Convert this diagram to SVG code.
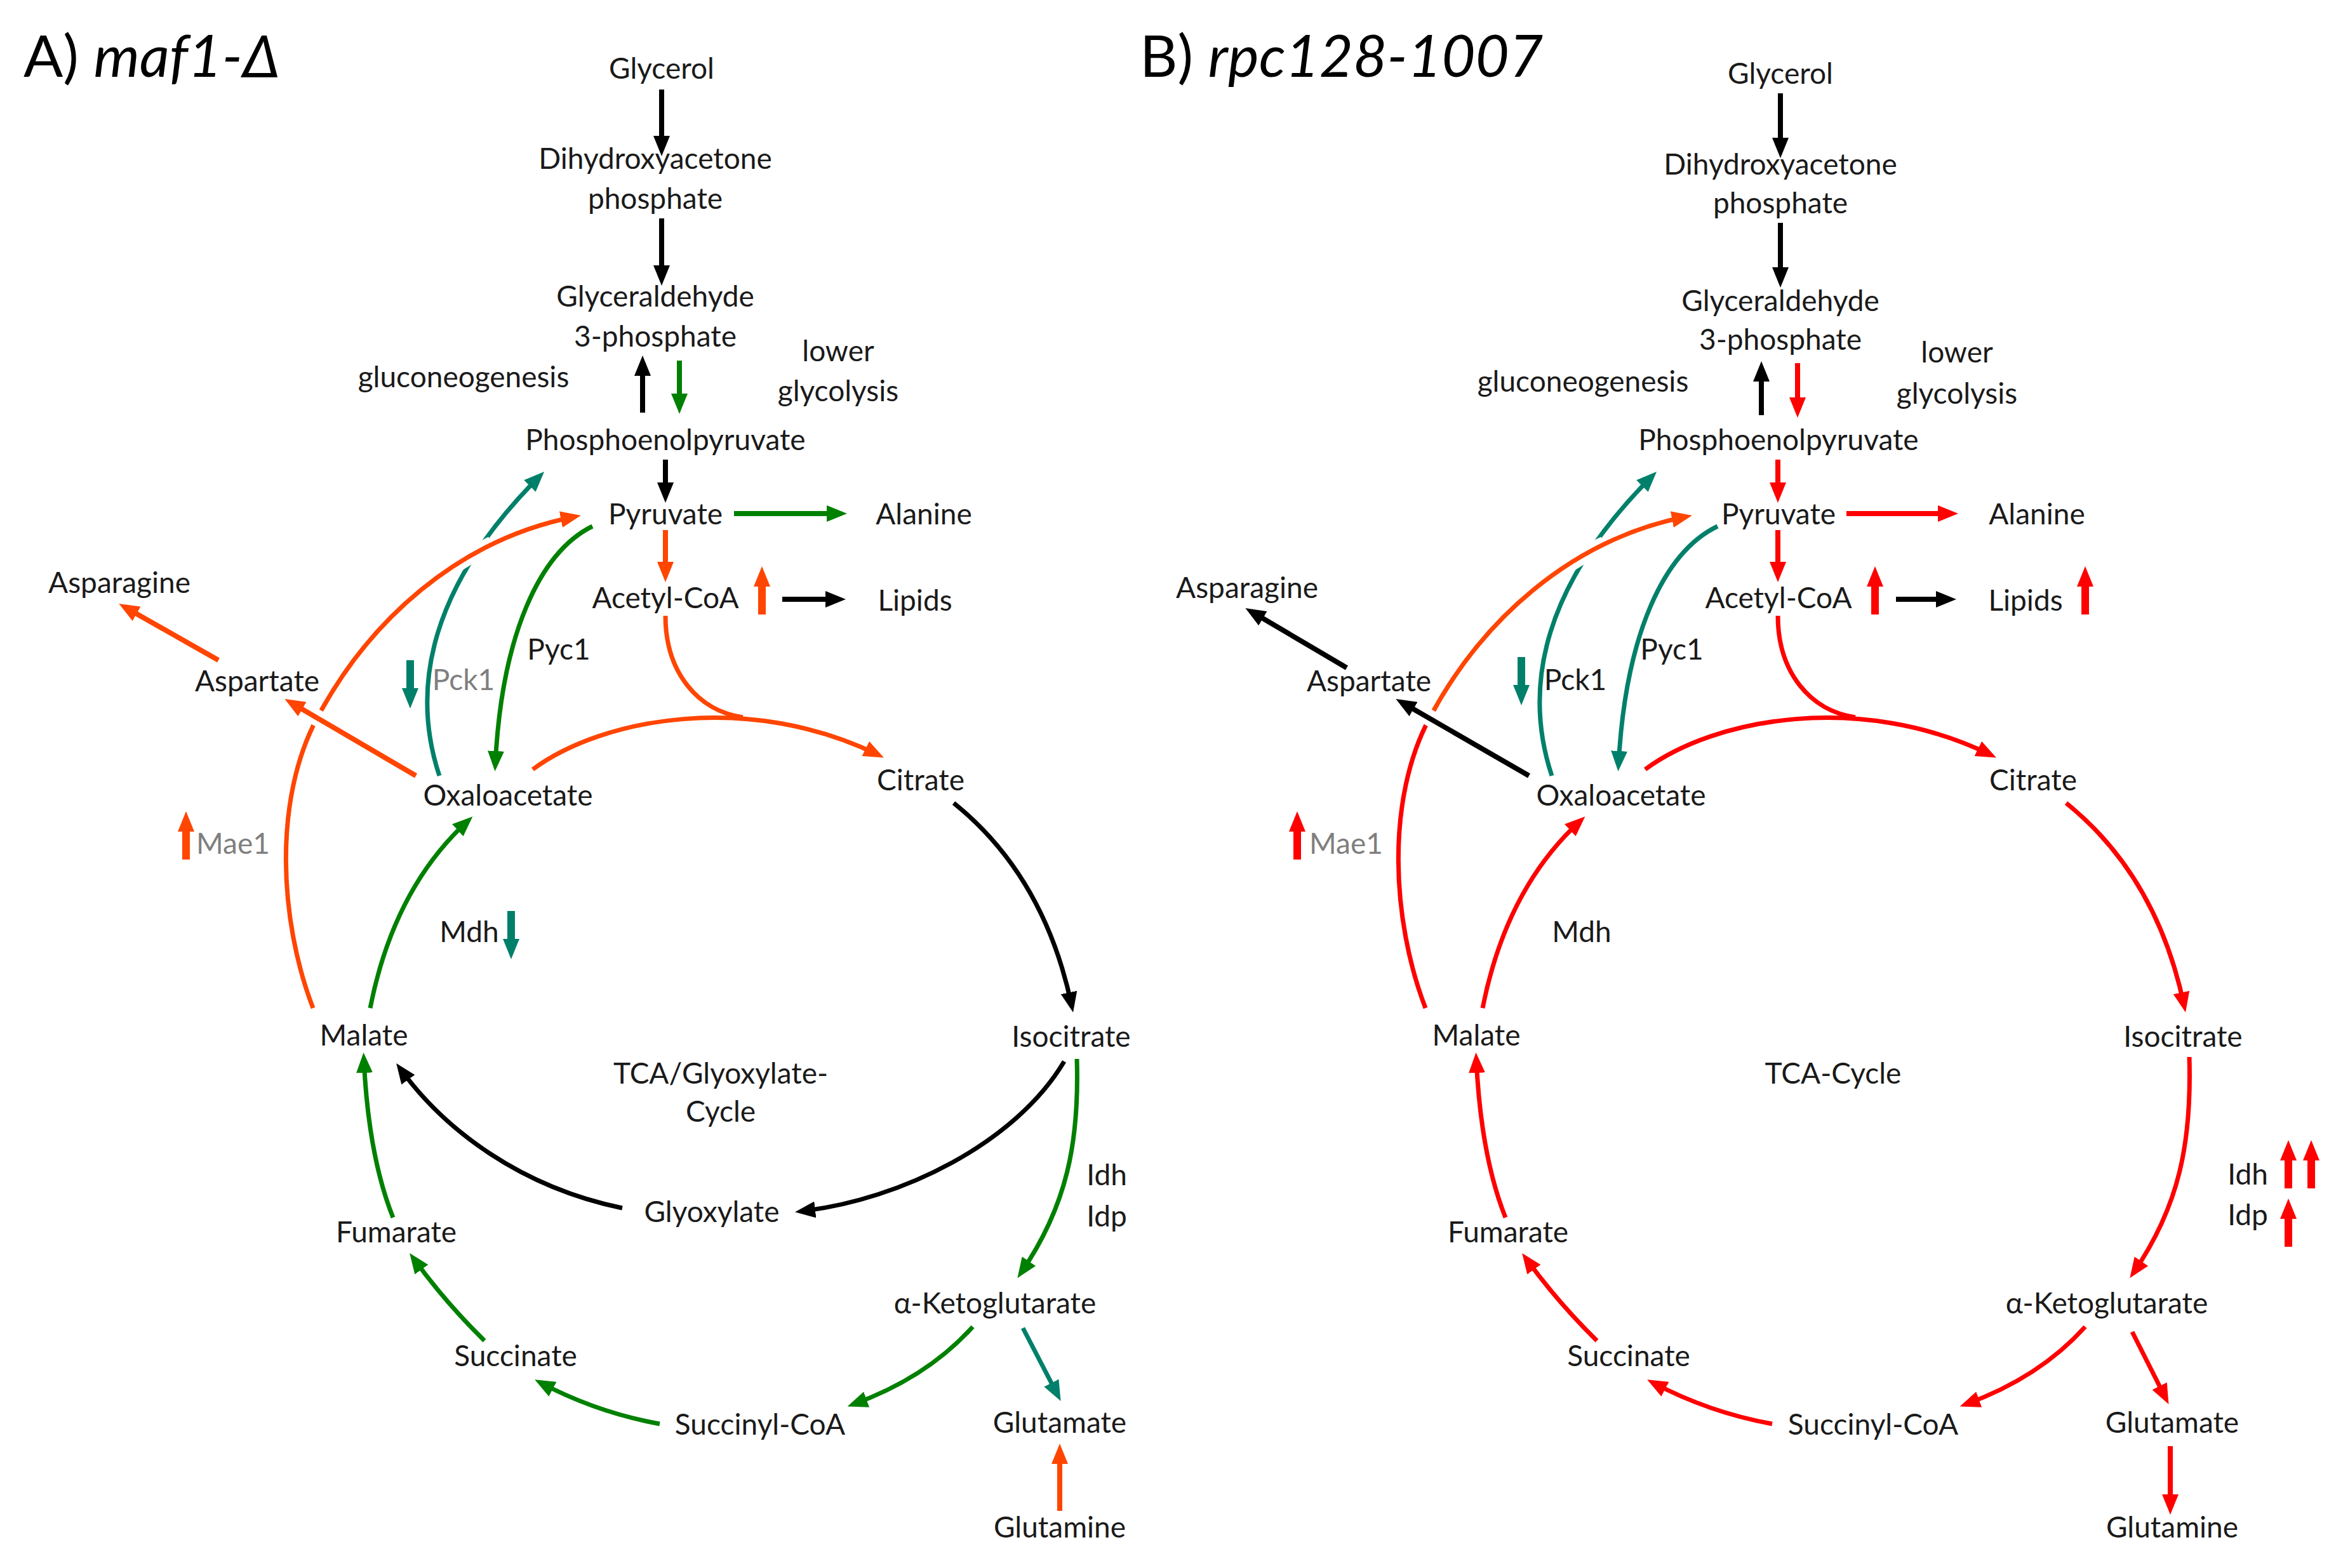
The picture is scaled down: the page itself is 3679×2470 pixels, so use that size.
<svg xmlns="http://www.w3.org/2000/svg" xmlns:xlink="http://www.w3.org/1999/xlink" width="3679" height="2470" viewBox="0 0 3679 2470">
<style>
text{font-family:Lato,"Noto Sans","Liberation Sans",sans-serif;font-size:46px;fill:#1a1a1a;text-anchor:middle}
.title{font-size:92px;text-anchor:start;fill:#000}
.gray{fill:#7f7f7f}
.c{fill:none;stroke-width:7}
.s{fill:none;stroke-width:8}
.k{stroke:#000}.gr{stroke:#008000}.tl{stroke:#00806A}.o{stroke:#FF4500}.r{stroke:#FF0000}
.halo{fill:none;stroke:#fff;stroke-width:26}
</style>
<defs>
<marker id="mk" markerUnits="userSpaceOnUse" markerWidth="32" markerHeight="26" refX="22" refY="13" orient="auto"><path d="M0,0 L32,13 L0,26 z" fill="#000"/></marker>
<marker id="mg" markerUnits="userSpaceOnUse" markerWidth="32" markerHeight="26" refX="22" refY="13" orient="auto"><path d="M0,0 L32,13 L0,26 z" fill="#008000"/></marker>
<marker id="mt" markerUnits="userSpaceOnUse" markerWidth="32" markerHeight="26" refX="22" refY="13" orient="auto"><path d="M0,0 L32,13 L0,26 z" fill="#00806A"/></marker>
<marker id="mo" markerUnits="userSpaceOnUse" markerWidth="32" markerHeight="26" refX="22" refY="13" orient="auto"><path d="M0,0 L32,13 L0,26 z" fill="#FF4500"/></marker>
<marker id="mr" markerUnits="userSpaceOnUse" markerWidth="32" markerHeight="26" refX="22" refY="13" orient="auto"><path d="M0,0 L32,13 L0,26 z" fill="#FF0000"/></marker>
<path id="ind" d="M-6,0 L-6,-44 L-13,-44 L0,-76 L13,-44 L6,-44 L6,0 z"/>
</defs>
<rect width="3679" height="2470" fill="#fff"/>

<g id="titles">
<text class="title" x="37" y="121">A) <tspan font-style="italic">maf1-Δ</tspan></text>
<text class="title" x="1795" y="121">B) <tspan font-style="italic">rpc128-1007</tspan></text>
</g>

<g id="connectors">
<!-- Panel A -->
<line class="s k" x1="1042" y1="141" x2="1042" y2="236" marker-end="url(#mk)"/>
<line class="s k" x1="1042" y1="344" x2="1042" y2="440" marker-end="url(#mk)"/>
<line class="s k" stroke-width="9" x1="1012" y1="650" x2="1012" y2="570" marker-end="url(#mk)"/>
<line class="s gr" stroke-width="9" x1="1070" y1="568" x2="1070" y2="642" marker-end="url(#mg)"/>
<line class="s k" x1="1048" y1="724" x2="1048" y2="782" marker-end="url(#mk)"/>
<line class="s gr" x1="1156" y1="809" x2="1324" y2="809" marker-end="url(#mg)"/>
<line class="s o" x1="1048" y1="835" x2="1048" y2="907" marker-end="url(#mo)"/>
<line class="s k" x1="1232" y1="944" x2="1322" y2="944" marker-end="url(#mk)"/>
<line class="s o" x1="344" y1="1040" x2="196" y2="956" marker-end="url(#mo)"/>
<path class="c tl" d="M692 1222 C645 1080 680 920 850 750" marker-end="url(#mt)"/>
<path class="halo" d="M663 929 C697 901 734.5 877 775 857.5"/>
<path class="c o" d="M493 1588 C440 1450 430 1260 500 1130 C580 980 720 850 905 814" marker-end="url(#mo)"/>
<path class="c gr" d="M933 829 C850 870 790 1000 780 1205" marker-end="url(#mg)"/>
<line class="halo" x1="560" y1="1166" x2="450" y2="1102"/>
<line class="s o" x1="655" y1="1222" x2="457" y2="1106" marker-end="url(#mo)"/>
<path class="c o" d="M839 1212 C950 1130 1180 1090 1383 1189" marker-end="url(#mo)"/>
<path class="c o" d="M1048 970 C1048 1060 1100 1120 1170 1130"/>
<path class="c k" d="M1502 1265 Q1645 1380 1688 1585" marker-end="url(#mk)"/>
<path class="c k" d="M1676 1672 C1600 1800 1420 1890 1262 1908" marker-end="url(#mk)"/>
<path class="c k" d="M980 1903 C820 1870 700 1780 630 1683" marker-end="url(#mk)"/>
<path class="c gr" d="M1696 1668 C1700 1800 1680 1900 1608 2005" marker-end="url(#mg)"/>
<path class="c gr" d="M1532 2090 Q1460 2170 1344 2212" marker-end="url(#mg)"/>
<line class="c tl" x1="1611" y1="2092" x2="1666" y2="2198" marker-end="url(#mt)"/>
<line class="s o" x1="1669" y1="2380" x2="1669" y2="2284" marker-end="url(#mo)"/>
<path class="c gr" d="M1039 2243 Q940 2225 851 2178" marker-end="url(#mg)"/>
<path class="c gr" d="M763 2112 Q700 2050 651 1982" marker-end="url(#mg)"/>
<path class="c gr" d="M619 1918 Q580 1820 573 1668" marker-end="url(#mg)"/>
<path class="c gr" d="M583 1588 Q620 1400 737 1293" marker-end="url(#mg)"/>

<!-- Panel B -->
<line class="s k" x1="2804" y1="147" x2="2804" y2="239" marker-end="url(#mk)"/>
<line class="s k" x1="2804" y1="351" x2="2804" y2="443" marker-end="url(#mk)"/>
<line class="s k" stroke-width="9" x1="2774" y1="654" x2="2774" y2="579" marker-end="url(#mk)"/>
<line class="s r" stroke-width="7" x1="2831" y1="572" x2="2831" y2="648" marker-end="url(#mr)"/>
<line class="s r" x1="2800" y1="724" x2="2800" y2="782" marker-end="url(#mr)"/>
<line class="s r" x1="2908" y1="809" x2="3074" y2="809" marker-end="url(#mr)"/>
<line class="s r" x1="2800" y1="835" x2="2800" y2="907" marker-end="url(#mr)"/>
<line class="s k" x1="2986" y1="944" x2="3071" y2="944" marker-end="url(#mk)"/>
<line class="s k" x1="2121" y1="1052" x2="1970" y2="963" marker-end="url(#mk)"/>
<path class="c tl" d="M2444 1222 C2397 1080 2432 920 2602 750" marker-end="url(#mt)"/>
<path class="halo" d="M2415 929 C2449 901 2486.5 877 2527 857.5"/>
<path class="c r" d="M2245 1588 C2192 1450 2182 1260 2252 1130"/>
<path class="c o" d="M2252 1130 C2332 980 2472 850 2655 814" marker-end="url(#mo)"/>
<path class="c tl" d="M2705 829 C2620 870 2560 1000 2549 1205" marker-end="url(#mt)"/>
<line class="halo" x1="2312" y1="1166" x2="2202" y2="1102"/>
<line class="s k" x1="2408" y1="1222" x2="2207" y2="1106" marker-end="url(#mk)"/>
<path class="c r" d="M2591 1212 C2702 1130 2932 1090 3135 1189" marker-end="url(#mr)"/>
<path class="c r" d="M2800 970 C2800 1060 2852 1120 2922 1130"/>
<path class="c r" d="M3254 1265 Q3397 1380 3440 1585" marker-end="url(#mr)"/>
<path class="c r" d="M3448 1665 C3452 1800 3432 1900 3360 2005" marker-end="url(#mr)"/>
<path class="c r" d="M3284 2090 Q3212 2170 3096 2212" marker-end="url(#mr)"/>
<line class="c r" x1="3358" y1="2098" x2="3411" y2="2203" marker-end="url(#mr)"/>
<line class="s r" stroke-width="10" x1="3418" y1="2278" x2="3418" y2="2376" marker-end="url(#mr)"/>
<path class="c r" d="M2791 2243 Q2692 2225 2603 2178" marker-end="url(#mr)"/>
<path class="c r" d="M2515 2112 Q2452 2050 2403 1982" marker-end="url(#mr)"/>
<path class="c r" d="M2371 1918 Q2332 1820 2325 1668" marker-end="url(#mr)"/>
<path class="c r" d="M2335 1588 Q2372 1400 2489 1293" marker-end="url(#mr)"/>
</g>

<g id="indicators">
<use xlink:href="#ind" href="#ind" transform="translate(1200,968)" fill="#FF4500"/>
<use xlink:href="#ind" href="#ind" transform="translate(646,1040) rotate(180)" fill="#00806A"/>
<use xlink:href="#ind" href="#ind" transform="translate(805,1435) rotate(180)" fill="#00806A"/>
<use xlink:href="#ind" href="#ind" transform="translate(293,1354)" fill="#FF4500"/>
<use xlink:href="#ind" href="#ind" transform="translate(2953,968)" fill="#FF0000"/>
<use xlink:href="#ind" href="#ind" transform="translate(3284,968)" fill="#FF0000"/>
<use xlink:href="#ind" href="#ind" transform="translate(2396,1035) rotate(180)" fill="#00806A"/>
<use xlink:href="#ind" href="#ind" transform="translate(2043,1354)" fill="#FF0000"/>
<use xlink:href="#ind" href="#ind" transform="translate(3604,1872)" fill="#FF0000"/>
<use xlink:href="#ind" href="#ind" transform="translate(3640,1872)" fill="#FF0000"/>
<use xlink:href="#ind" href="#ind" transform="translate(3604,1964)" fill="#FF0000"/>
</g>

<g id="panelA">
<g id="a-glycerol"><text x="1042" y="124">Glycerol</text></g>
<g id="a-dhap"><text x="1032" y="266">Dihydroxyacetone</text><text x="1032" y="329">phosphate</text></g>
<g id="a-ga3p"><text x="1032" y="483">Glyceraldehyde</text><text x="1032" y="546">3-phosphate</text></g>
<g id="a-gluconeo"><text x="730" y="610">gluconeogenesis</text></g>
<g id="a-lowerglyc"><text x="1320" y="569">lower</text><text x="1320" y="632">glycolysis</text></g>
<g id="a-pep"><text x="1048" y="709">Phosphoenolpyruvate</text></g>
<g id="a-pyruvate"><text x="1048" y="826">Pyruvate</text></g>
<g id="a-alanine"><text x="1455" y="826">Alanine</text></g>
<g id="a-acetylcoa"><text x="1048" y="958">Acetyl-CoA</text></g>
<g id="a-lipids"><text x="1441" y="962">Lipids</text></g>
<g id="a-asparagine"><text x="188" y="934">Asparagine</text></g>
<g id="a-aspartate"><text x="405" y="1089">Aspartate</text></g>
<g id="a-pck1"><text class="gray" x="730" y="1087">Pck1</text></g>
<g id="a-pyc1"><text x="880" y="1039">Pyc1</text></g>
<g id="a-oxaloacetate"><text x="800" y="1269">Oxaloacetate</text></g>
<g id="a-citrate"><text x="1450" y="1245">Citrate</text></g>
<g id="a-mae1"><text class="gray" x="367" y="1345">Mae1</text></g>
<g id="a-mdh"><text x="739" y="1484">Mdh</text></g>
<g id="a-malate"><text x="573" y="1647">Malate</text></g>
<g id="a-isocitrate"><text x="1687" y="1649">Isocitrate</text></g>
<g id="a-cycle"><text x="1135" y="1707">TCA/Glyoxylate-</text><text x="1135" y="1767">Cycle</text></g>
<g id="a-idh"><text x="1743" y="1867">Idh</text><text x="1743" y="1932">Idp</text></g>
<g id="a-glyoxylate"><text x="1121" y="1925">Glyoxylate</text></g>
<g id="a-fumarate"><text x="624" y="1957">Fumarate</text></g>
<g id="a-akg"><text x="1567" y="2069">α-Ketoglutarate</text></g>
<g id="a-succinate"><text x="812" y="2152">Succinate</text></g>
<g id="a-succinylcoa"><text x="1197" y="2260">Succinyl-CoA</text></g>
<g id="a-glutamate"><text x="1669" y="2257">Glutamate</text></g>
<g id="a-glutamine"><text x="1669" y="2422">Glutamine</text></g>
</g>

<g id="panelB">
<g id="b-glycerol"><text x="2804" y="132">Glycerol</text></g>
<g id="b-dhap"><text x="2804" y="275">Dihydroxyacetone</text><text x="2804" y="336">phosphate</text></g>
<g id="b-ga3p"><text x="2804" y="490">Glyceraldehyde</text><text x="2804" y="551">3-phosphate</text></g>
<g id="b-gluconeo"><text x="2493" y="617">gluconeogenesis</text></g>
<g id="b-lowerglyc"><text x="3082" y="571">lower</text><text x="3082" y="636">glycolysis</text></g>
<g id="b-pep"><text x="2801" y="709">Phosphoenolpyruvate</text></g>
<g id="b-pyruvate"><text x="2801" y="826">Pyruvate</text></g>
<g id="b-alanine"><text x="3208" y="826">Alanine</text></g>
<g id="b-acetylcoa"><text x="2801" y="958">Acetyl-CoA</text></g>
<g id="b-lipids"><text x="3190" y="962">Lipids</text></g>
<g id="b-asparagine"><text x="1964" y="942">Asparagine</text></g>
<g id="b-aspartate"><text x="2156" y="1089">Aspartate</text></g>
<g id="b-pck1"><text x="2481" y="1087">Pck1</text></g>
<g id="b-pyc1"><text x="2633" y="1039">Pyc1</text></g>
<g id="b-oxaloacetate"><text x="2553" y="1269">Oxaloacetate</text></g>
<g id="b-citrate"><text x="3202" y="1245">Citrate</text></g>
<g id="b-mae1"><text class="gray" x="2120" y="1345">Mae1</text></g>
<g id="b-mdh"><text x="2491" y="1484">Mdh</text></g>
<g id="b-malate"><text x="2325" y="1647">Malate</text></g>
<g id="b-isocitrate"><text x="3438" y="1649">Isocitrate</text></g>
<g id="b-cycle"><text x="2887" y="1707">TCA-Cycle</text></g>
<g id="b-idh"><text x="3540" y="1866">Idh</text><text x="3540" y="1930">Idp</text></g>
<g id="b-fumarate"><text x="2375" y="1957">Fumarate</text></g>
<g id="b-akg"><text x="3318" y="2069">α-Ketoglutarate</text></g>
<g id="b-succinate"><text x="2565" y="2152">Succinate</text></g>
<g id="b-succinylcoa"><text x="2950" y="2260">Succinyl-CoA</text></g>
<g id="b-glutamate"><text x="3421" y="2257">Glutamate</text></g>
<g id="b-glutamine"><text x="3421" y="2422">Glutamine</text></g>
</g>
</svg>
